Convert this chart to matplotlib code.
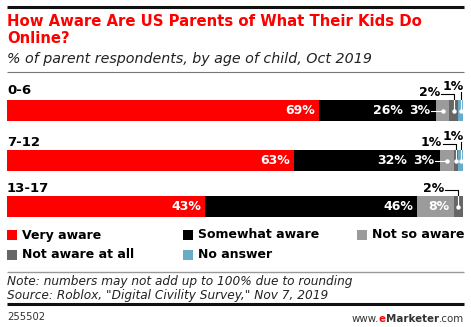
import matplotlib.pyplot as plt
from matplotlib.patches import Rectangle

# survey data: share of parents by awareness level, per child age group
ages = ['0-6', '7-12', '13-17']
categories = ['Very aware', 'Somewhat aware', 'Not so aware', 'Not aware at all', 'No answer']
very_aware = [69, 63, 43]
somewhat_aware = [26, 32, 46]
not_so_aware = [3, 3, 8]
not_aware_at_all = [2, 1, 2]
no_answer = [1, 1, 0]

series = [very_aware, somewhat_aware, not_so_aware, not_aware_at_all, no_answer]
colors = ['#ff0000', '#000000', '#9b9b9b', '#666666', '#6aacc8']

W, H = 471, 327
L, R = 7, 463
FONT = 'DejaVu Sans'

fig = plt.figure(figsize=(W / 100, H / 100), dpi=100)


def fx(x):
    return x / W


def fy(y):
    return 1 - y / H


# overlay axes in pixel units for rules and legend swatches
deco = fig.add_axes([0, 0, 1, 1])
deco.set_xlim(0, W)
deco.set_ylim(H, 0)
deco.axis('off')
deco.plot([L, R + 1], [7, 7], color='#111111', lw=2.2, solid_capstyle='butt')
deco.plot([L, R + 1], [72, 72], color='#777777', lw=0.8, solid_capstyle='butt')
deco.plot([L, R + 1], [272, 272], color='#999999', lw=1.0, solid_capstyle='butt')
deco.plot([L, R + 1], [304, 304], color='#111111', lw=2.2, solid_capstyle='butt')

# titles
fig.text(fx(L), fy(21), 'How Aware Are US Parents of What Their Kids Do',
         color='#ff0000', fontsize=10.7, fontweight='bold', va='center', family=FONT)
fig.text(fx(L), fy(38.5), 'Online?',
         color='#ff0000', fontsize=10.7, fontweight='bold', va='center', family=FONT)
fig.text(fx(L), fy(59), '% of parent respondents, by age of child, Oct 2019',
         color='#222222', fontsize=10.3, style='italic', va='center', family=FONT)

# bar axes: x in percent of each row's total, y in pixels
ax = fig.add_axes([fx(L), 0, (R - L) / W, 1])
ax.set_xlim(0, 100)
ax.set_ylim(H, 0)
ax.axis('off')

bar_y = [110.5, 160.5, 206.5]
label_y = [90, 143, 188]
bar_h = 21
px = 100 / (R - L)

totals = [sum(col) for col in zip(*series)]
shares = [[v / t * 100 for v, t in zip(s, totals)] for s in series]
lefts = [[sum(shares[k][i] for k in range(j)) for i in range(len(ages))] for j in range(len(series))]

for j in range(len(series)):
    ax.barh(bar_y, shares[j], left=lefts[j], height=bar_h, color=colors[j], linewidth=0)

for i, age in enumerate(ages):
    fig.text(fx(L), fy(label_y[i]), age, fontsize=9.5, fontweight='bold',
             va='center', family=FONT)
    top = bar_y[i] - bar_h / 2
    callouts = []
    for j in range(len(series)):
        v = series[j][i]
        if v == 0:
            continue
        start, width = lefts[j][i], shares[j][i]
        end = start + width
        mid = start + width / 2
        if v >= 8:
            # leave room when the next segment's label borrows this one
            nxt = series[j + 1][i] if j + 1 < len(series) else 0
            pad = 33 if 3 <= nxt < 8 else 4
            ax.text(end - pad * px, bar_y[i], f'{v}%', color='white', fontsize=9,
                    fontweight='bold', ha='right', va='center', family=FONT)
        elif v >= 3:
            # label sits in the previous segment, white leader to a dot
            ax.text(start - 6 * px, bar_y[i], f'{v}%', color='white', fontsize=9,
                    fontweight='bold', ha='right', va='center', family=FONT)
            ax.plot([start - 5 * px, mid], [bar_y[i], bar_y[i]], color='white', lw=0.8)
            ax.plot(mid, bar_y[i], 'o', color='white', ms=3.2, mec='none')
        else:
            callouts.append((v, mid))
    for k, (v, mid) in enumerate(callouts):
        if k == 0:
            ty = top - 7
            tx = mid - 14 * px
            ax.text(tx, ty, f'{v}%', fontsize=9, fontweight='bold',
                    ha='right', va='center', family=FONT)
            ax.plot([tx + 1 * px, mid, mid], [ty + 0.5, ty + 0.5, top],
                    color='black', lw=0.8)
        else:
            ty = top - 14
            ax.text(mid + 3 * px, ty, f'{v}%', fontsize=9, fontweight='bold',
                    ha='right', va='center', family=FONT)
            ax.plot([mid, mid], [ty + 6, top], color='black', lw=0.8)
        ax.plot([mid, mid], [top, bar_y[i]], color='white', lw=0.8)
        ax.plot(mid, bar_y[i], 'o', color='white', ms=3.2, mec='none')

# legend
leg_x = [7, 183, 357, 7, 183]
leg_y = [235, 235, 235, 255, 255]
for name, c, x, y in zip(categories, colors, leg_x, leg_y):
    deco.add_patch(Rectangle((x, y - 5), 10, 10, facecolor=c, edgecolor='none'))
    deco.text(x + 15, y, name, fontsize=9, fontweight='bold', va='center', family=FONT)

# notes and footer
fig.text(fx(L), fy(282), 'Note: numbers may not add up to 100% due to rounding',
         fontsize=8.7, style='italic', va='center', color='#222222', family=FONT)
fig.text(fx(L), fy(296), 'Source: Roblox, "Digital Civility Survey," Nov 7, 2019',
         fontsize=8.7, style='italic', va='center', color='#222222', family=FONT)
fig.text(fx(L), fy(317), '255502', fontsize=7.2, va='center', color='#333333', family=FONT)

com = fig.text(fx(R + 1), fy(322), '.com', fontsize=7.4, ha='right', va='baseline',
               color='#333333', family=FONT)
mk = deco.annotate('Marketer', xy=(0, 0), xycoords=com, ha='right', va='bottom',
                   fontsize=7.4, fontweight='bold', color='#333333', family=FONT)
e = deco.annotate('e', xy=(0, 0), xycoords=mk, ha='right', va='bottom',
                  fontsize=7.4, fontweight='bold', color='#ff0000', family=FONT)
deco.annotate('www.', xy=(0, 0), xycoords=e, ha='right', va='bottom',
              fontsize=7.4, color='#333333', family=FONT)

fig.savefig('out.png', dpi=100)
